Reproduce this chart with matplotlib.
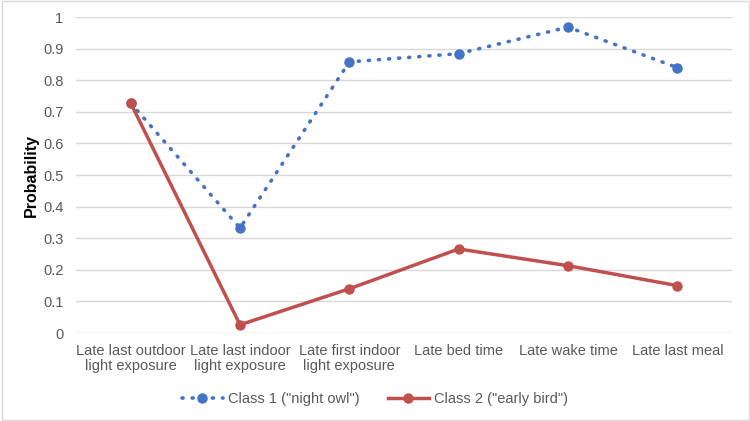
import matplotlib
matplotlib.use('Agg')
import matplotlib.pyplot as plt
from matplotlib.patches import Rectangle

plt.rcParams['font.family'] = ['Liberation Sans', 'DejaVu Sans']

CATEGORIES = ['Late last outdoor\nlight exposure', 'Late last indoor\nlight exposure',
              'Late first indoor\nlight exposure', 'Late bed time', 'Late wake time', 'Late last meal']
CLASS1 = [0.728, 0.332, 0.858, 0.884, 0.968, 0.840]
CLASS2 = [0.728, 0.026, 0.140, 0.266, 0.213, 0.150]
YTICKS = [0, 0.1, 0.2, 0.3, 0.4, 0.5, 0.6, 0.7, 0.8, 0.9, 1]
YTICK_LABELS = ['0', '0.1', '0.2', '0.3', '0.4', '0.5', '0.6', '0.7', '0.8', '0.9', '1']

BLUE = '#4472C4'
RED = '#C0504D'
TEXT = '#595959'

fig = plt.figure(figsize=(7.5, 4.21), dpi=100)
ax = fig.add_axes([0.1013, 0.209, 0.8747, 0.7506])

x = list(range(len(CATEGORIES)))
ax.plot(x, CLASS1, linestyle=(0, (0.3, 2.5)), dash_capstyle='round', color=BLUE, linewidth=2.6,
        marker='o', markersize=6.5, label='Class 1 ("night owl")', zorder=3)
ax.plot(x, CLASS2, linestyle='-', color=RED, linewidth=2.5,
        marker='o', markersize=6.5, label='Class 2 ("early bird")', zorder=4)

ax.set_xlim(-0.5, len(CATEGORIES) - 0.5)
ax.set_ylim(0, 1)
ax.set_yticks(YTICKS)
ax.set_yticklabels(YTICK_LABELS)
ax.set_xticks(x)
ax.set_xticklabels(CATEGORIES)
ax.tick_params(axis='both', length=0, labelsize=10.5, labelcolor=TEXT)
ax.tick_params(axis='y', pad=9)
ax.tick_params(axis='x', pad=8)
for lbl in ax.get_xticklabels():
    lbl.set_linespacing(1.05)

ax.grid(axis='y', color='#D9D9D9', linewidth=1)
ax.set_axisbelow(True)
for s in ax.spines.values():
    s.set_visible(False)

ax.set_ylabel('Probability', fontsize=11.5, fontweight='bold', color='black', labelpad=3)

leg = fig.legend(loc='center', bbox_to_anchor=(0.5, 0.053), ncol=2, frameon=False,
                 fontsize=10.5, handlelength=2.8, columnspacing=1.9, handletextpad=0.4)
for t in leg.get_texts():
    t.set_color(TEXT)

fig.patches.append(Rectangle((0.002, 0.003), 0.996, 0.994, transform=fig.transFigure,
                             fill=False, edgecolor='#D9D9D9', linewidth=1))

fig.savefig('out.png', dpi=100)
